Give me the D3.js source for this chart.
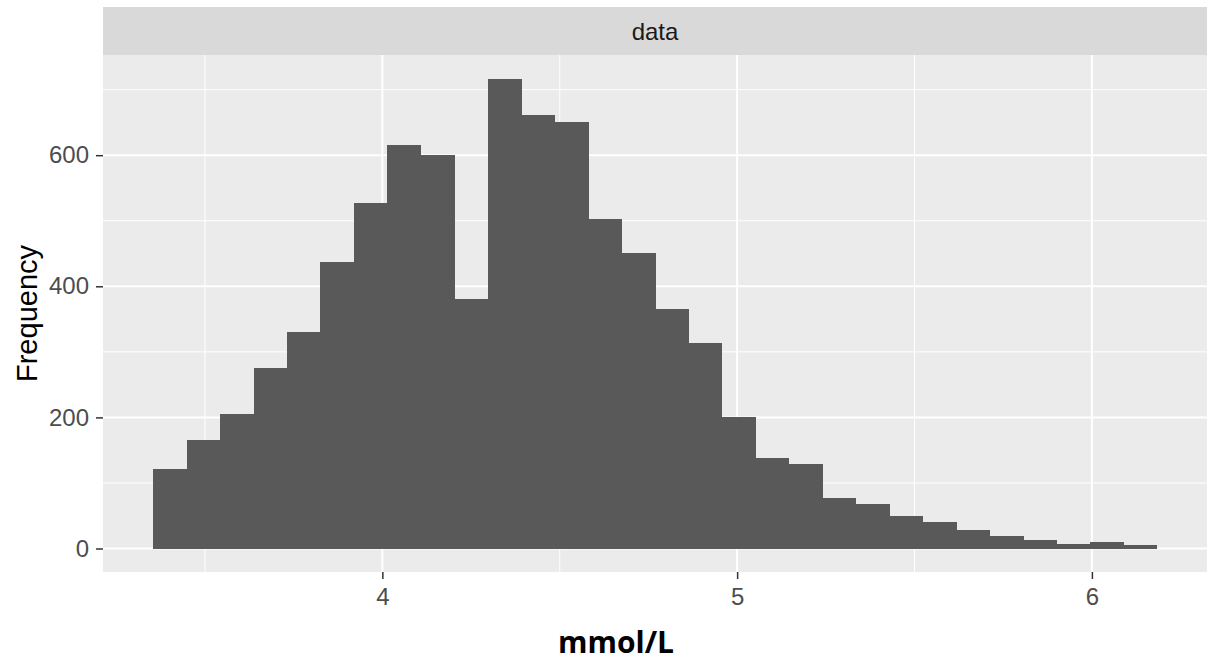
<!DOCTYPE html>
<html lang="en">

<head>
    <meta charset="utf-8" />
    <title>mmol/L histogram</title>
    <script src="https://d3js.org/d3.v7.min.js"></script>
</head>
<style>
    body {
        margin: 0;
        background: #fff;
    }

    text {
        font-family: "Liberation Sans", Arial, sans-serif;
    }

    .axis path {
        display: none;
    }

    .axis line {
        stroke: #333333;
        stroke-width: 1.5px;
    }

    .axis text {
        fill: #4D4D4D;
        font-size: 24px;
    }
</style>

<body>
    <div id="chart"></div>
</body>

<script>
    // histogram counts, 30 bins
    var counts = [122, 166, 205, 276, 331, 437, 527, 616, 601, 381,
        717, 662, 650, 503, 451, 365, 313, 200, 138, 129,
        77, 68, 50, 41, 28, 19, 13, 7, 10, 6];
    var binMin = 3.354;
    var binWidth = 0.0943;
    var xTicks = [4, 5, 6];
    var xMinor = [3.5, 4.5, 5.5];
    var yTicks = [0, 200, 400, 600];
    var yMinor = [100, 300, 500, 700];
    var stripLabel = "data";
    var xTitle = "mmol/L";
    var yTitle = "Frequency";

    var width = 1208;
    var height = 668;
    var panel = { left: 103, right: 1207, top: 55, bottom: 572 };
    var stripTop = 7;

    var bins = counts.map(function (c, i) {
        return { x0: binMin + i * binWidth, x1: binMin + (i + 1) * binWidth, n: c };
    });

    var xLo = bins[0].x0, xHi = bins[bins.length - 1].x1;
    var xPad = (xHi - xLo) * 0.05;
    var yMax = d3.max(counts);

    var x = d3.scaleLinear()
        .domain([xLo - xPad, xHi + xPad])
        .range([panel.left, panel.right]);
    var y = d3.scaleLinear()
        .domain([-yMax * 0.05, yMax * 1.05])
        .range([panel.bottom, panel.top]);

    var svg = d3.select("#chart").append("svg")
        .attr("width", width)
        .attr("height", height);

    // strip
    svg.append("rect")
        .attr("x", panel.left).attr("y", stripTop)
        .attr("width", panel.right - panel.left)
        .attr("height", panel.top - stripTop)
        .attr("fill", "#D9D9D9");
    svg.append("text")
        .attr("x", (panel.left + panel.right) / 2)
        .attr("y", (stripTop + panel.top) / 2 + 8.5)
        .attr("text-anchor", "middle")
        .attr("fill", "#1A1A1A")
        .style("font-size", "24px")
        .text(stripLabel);

    // panel background + grid
    svg.append("rect")
        .attr("x", panel.left).attr("y", panel.top)
        .attr("width", panel.right - panel.left)
        .attr("height", panel.bottom - panel.top)
        .attr("fill", "#EBEBEB");

    var grid = svg.append("g");
    grid.selectAll(".xminor").data(xMinor).enter().append("line")
        .attr("x1", x).attr("x2", x)
        .attr("y1", panel.top).attr("y2", panel.bottom)
        .attr("stroke", "#fff").attr("stroke-width", 1);
    grid.selectAll(".yminor").data(yMinor).enter().append("line")
        .attr("y1", y).attr("y2", y)
        .attr("x1", panel.left).attr("x2", panel.right)
        .attr("stroke", "#fff").attr("stroke-width", 1);
    grid.selectAll(".xmajor").data(xTicks).enter().append("line")
        .attr("x1", x).attr("x2", x)
        .attr("y1", panel.top).attr("y2", panel.bottom)
        .attr("stroke", "#fff").attr("stroke-width", 2);
    grid.selectAll(".ymajor").data(yTicks).enter().append("line")
        .attr("y1", y).attr("y2", y)
        .attr("x1", panel.left).attr("x2", panel.right)
        .attr("stroke", "#fff").attr("stroke-width", 2);

    // bars - crisp edges so neighbouring bars don't leave seams
    svg.append("g")
        .attr("shape-rendering", "crispEdges")
        .selectAll("rect")
        .data(bins)
        .enter().append("rect")
        .attr("x", function (d) { return x(d.x0); })
        .attr("width", function (d) { return x(d.x1) - x(d.x0) + 0.5; })
        .attr("y", function (d) { return y(d.n); })
        .attr("height", function (d) { return y(0) - y(d.n); })
        .attr("fill", "#595959");

    // axes
    svg.append("g")
        .attr("class", "axis")
        .attr("transform", "translate(0," + panel.bottom + ")")
        .call(d3.axisBottom(x).tickValues(xTicks).tickSize(7).tickPadding(9).tickFormat(d3.format("d")));

    svg.append("g")
        .attr("class", "axis")
        .attr("transform", "translate(" + panel.left + ",0)")
        .call(d3.axisLeft(y).tickValues(yTicks).tickSize(7).tickPadding(7).tickFormat(d3.format("d")));

    // titles
    svg.append("text")
        .attr("x", 616)
        .attr("y", 653)
        .attr("text-anchor", "middle")
        .attr("fill", "#000")
        .style("font-family", "'Open Sans', 'DejaVu Sans', sans-serif")
        .style("font-weight", "bold")
        .style("font-size", "30px")
        .text(xTitle);

    svg.append("text")
        .attr("transform", "translate(37," + (panel.top + panel.bottom) / 2 + ") rotate(-90)")
        .attr("text-anchor", "middle")
        .attr("fill", "#000")
        .style("font-size", "29px")
        .text(yTitle);
</script>

</html>
